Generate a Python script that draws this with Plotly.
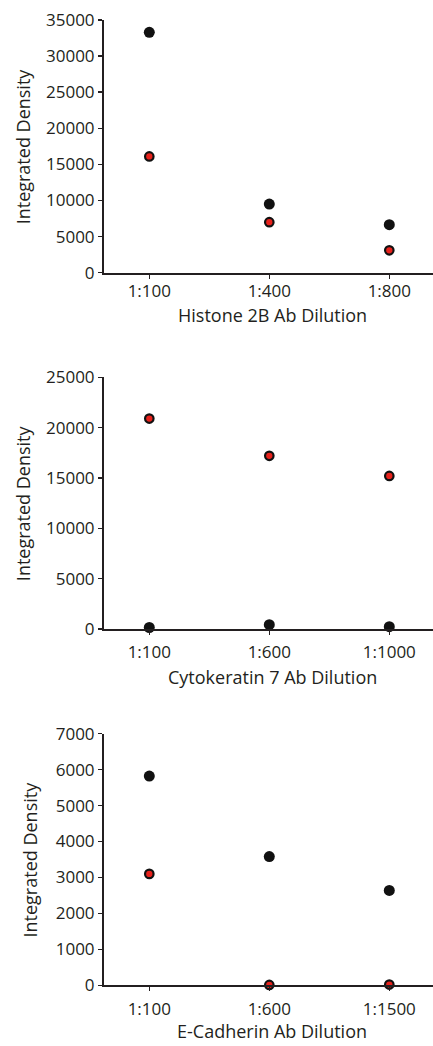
import plotly.graph_objects as go

# ---------------- data ----------------
histone_dilutions = ["1:100", "1:400", "1:800"]
histone_black = [33300, 9500, 6650]
histone_red = [16100, 7000, 3100]

cytok_dilutions = ["1:100", "1:600", "1:1000"]
cytok_black = [150, 430, 230]
cytok_red = [20900, 17200, 15200]

ecad_dilutions = ["1:100", "1:600", "1:1500"]
ecad_black = [5820, 3580, 2640]
ecad_red = [3100, 10, 20]

x_titles = ["Histone 2B Ab Dilution", "Cytokeratin 7 Ab Dilution", "E-Cadherin Ab Dilution"]
y_title = "Integrated Density"
y_maxes = [35000, 25000, 7000]
y_dticks = [5000, 5000, 1000]

# ---------------- layout geometry ----------------
W, H = 433, 1046
FONT = "Open Sans"
FS_TICK = 17
FS_TITLE = 18
TXT = "#231f20"
RED = "#e8221c"
BLK = "#111111"

# panel plot-area pixel extents (top, bottom)
panels_px = [(20.0, 272.7), (377.3, 629.0), (733.7, 985.3)]
x_left_px = 104.0
x_dom = [x_left_px / W, 1.0]
x_range = [-0.3775, -0.3775 + (W - x_left_px) / 120.0]

fig = go.Figure()

datasets = [
    (histone_dilutions, histone_black, histone_red),
    (cytok_dilutions, cytok_black, cytok_red),
    (ecad_dilutions, ecad_black, ecad_red),
]

annotations = []
ytitle_x = [23, 23, 29]
xtitle_y = [315, 677, 1031]
xtick_standoff = [-2, 3, 3]

for i, (cats, blk, red) in enumerate(datasets):
    n = i + 1
    xa = "x" if n == 1 else f"x{n}"
    ya = "y" if n == 1 else f"y{n}"
    xs = list(range(len(cats)))
    fig.add_trace(go.Scatter(
        x=xs, y=blk, mode="markers", xaxis=xa, yaxis=ya, cliponaxis=False,
        marker=dict(size=11, color=BLK, line=dict(width=0)), showlegend=False,
        hoverinfo="skip"))
    fig.add_trace(go.Scatter(
        x=xs, y=red, mode="markers", xaxis=xa, yaxis=ya, cliponaxis=False,
        marker=dict(size=8.5, color=RED, line=dict(width=2.2, color=BLK)), showlegend=False,
        hoverinfo="skip"))

    top, bot = panels_px[i]
    ydom = [1 - bot / H, 1 - top / H]
    xkey = "xaxis" if n == 1 else f"xaxis{n}"
    ykey = "yaxis" if n == 1 else f"yaxis{n}"
    fig.layout[xkey] = dict(
        domain=x_dom, range=x_range, anchor=ya, automargin=False,
        tickmode="array", tickvals=xs, ticktext=cats,
        showline=True, linecolor=TXT, linewidth=2,
        ticks="outside", ticklen=4, tickwidth=1.5, tickcolor=TXT,
        ticklabelstandoff=xtick_standoff[i],
        showgrid=False, zeroline=False,
        tickfont=dict(family=FONT, size=FS_TICK, color=TXT),
        fixedrange=True)
    fig.layout[ykey] = dict(
        domain=ydom, range=[0, y_maxes[i]], anchor=xa, automargin=False,
        tickmode="linear", tick0=0, dtick=y_dticks[i], tickformat="d",
        showline=True, linecolor=TXT, linewidth=2,
        ticks="outside", ticklen=4, tickwidth=1.5, tickcolor=TXT,
        showgrid=False, zeroline=False,
        tickfont=dict(family=FONT, size=FS_TICK, color=TXT),
        fixedrange=True)

    annotations.append(dict(
        text=y_title, textangle=-90, xref="paper", yref="paper",
        x=ytitle_x[i] / W, y=1 - (top + bot) / 2 / H,
        xanchor="center", yanchor="middle", showarrow=False,
        font=dict(family=FONT, size=FS_TITLE, color=TXT)))
    annotations.append(dict(
        text=x_titles[i], xref="paper", yref="paper",
        x=272 / W, y=1 - xtitle_y[i] / H,
        xanchor="center", yanchor="middle", showarrow=False,
        font=dict(family=FONT, size=FS_TITLE, color=TXT)))

fig.update_layout(
    width=W, height=H,
    margin=dict(l=0, r=0, t=0, b=0),
    paper_bgcolor="white", plot_bgcolor="white",
    annotations=annotations,
    hovermode=False,
)

fig.write_html(
    "out.html",
    config={"displayModeBar": False, "staticPlot": True},
    post_script="document.body.style.margin='0';document.body.style.overflow='hidden';",
)
